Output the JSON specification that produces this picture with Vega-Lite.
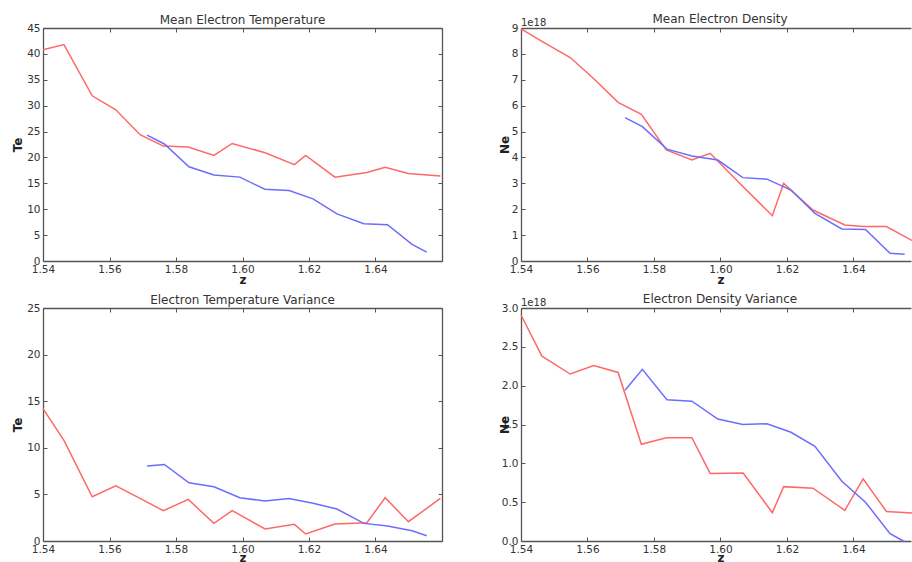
{
  "$schema": "https://vega.github.io/schema/vega-lite/v6.json",
  "background": "white",
  "padding": {"left": 11, "top": 12, "right": 0, "bottom": 0},
  "columns": 2,
  "spacing": {"row": 47, "column": 79},
  "bounds": "flush",
  "config": {
    "view": {"stroke": null},
    "title": {"font": "DejaVu Sans", "fontSize": 12, "fontWeight": "normal", "color": "#333333", "offset": -4, "baseline": "alphabetic", "frame": "group"},
    "axis": {
      "grid": false,
      "domainColor": "#555555",
      "domainWidth": 1.3,
      "tickColor": "#555555",
      "tickSize": -4,
      "tickWidth": 1,
      "labelFont": "DejaVu Sans",
      "labelFontSize": 10.5,
      "labelColor": "#333333",
      "labelPadding": 7,
      "labelOverlap": false,
      "labelBound": false,
      "labelFlush": false,
      "titleFont": "DejaVu Sans",
      "titleFontSize": 12,
      "titleFontWeight": "bold",
      "titleColor": "#222222"
    },
    "line": {"strokeWidth": 1.5, "clip": true}
  },
  "datasets": {
    "mte": [
      {"z": 1.5400, "v": 40.8, "series": "s1"},
      {"z": 1.5463, "v": 41.8, "series": "s1"},
      {"z": 1.5548, "v": 31.9, "series": "s1"},
      {"z": 1.5619, "v": 29.2, "series": "s1"},
      {"z": 1.5692, "v": 24.4, "series": "s1"},
      {"z": 1.5762, "v": 22.2, "series": "s1"},
      {"z": 1.5837, "v": 22.0, "series": "s1"},
      {"z": 1.5914, "v": 20.4, "series": "s1"},
      {"z": 1.5969, "v": 22.7, "series": "s1"},
      {"z": 1.6068, "v": 20.9, "series": "s1"},
      {"z": 1.6156, "v": 18.6, "series": "s1"},
      {"z": 1.6190, "v": 20.4, "series": "s1"},
      {"z": 1.6278, "v": 16.2, "series": "s1"},
      {"z": 1.6374, "v": 17.1, "series": "s1"},
      {"z": 1.6429, "v": 18.1, "series": "s1"},
      {"z": 1.6499, "v": 16.9, "series": "s1"},
      {"z": 1.6595, "v": 16.4, "series": "s1"},
      {"z": 1.5713, "v": 24.3, "series": "s2"},
      {"z": 1.5765, "v": 22.6, "series": "s2"},
      {"z": 1.5839, "v": 18.2, "series": "s2"},
      {"z": 1.5914, "v": 16.6, "series": "s2"},
      {"z": 1.5992, "v": 16.2, "series": "s2"},
      {"z": 1.6067, "v": 13.85, "series": "s2"},
      {"z": 1.6140, "v": 13.6, "series": "s2"},
      {"z": 1.6212, "v": 12.0, "series": "s2"},
      {"z": 1.6284, "v": 9.1, "series": "s2"},
      {"z": 1.6365, "v": 7.2, "series": "s2"},
      {"z": 1.6436, "v": 7.0, "series": "s2"},
      {"z": 1.6510, "v": 3.2, "series": "s2"},
      {"z": 1.6554, "v": 1.7, "series": "s2"}
    ],
    "mne": [
      {"z": 1.5400, "v": 8.97e18, "series": "s1"},
      {"z": 1.5463, "v": 8.48e18, "series": "s1"},
      {"z": 1.5548, "v": 7.86e18, "series": "s1"},
      {"z": 1.5619, "v": 7.04e18, "series": "s1"},
      {"z": 1.5692, "v": 6.13e18, "series": "s1"},
      {"z": 1.5762, "v": 5.67e18, "series": "s1"},
      {"z": 1.5837, "v": 4.29e18, "series": "s1"},
      {"z": 1.5914, "v": 3.90e18, "series": "s1"},
      {"z": 1.5969, "v": 4.16e18, "series": "s1"},
      {"z": 1.6068, "v": 2.87e18, "series": "s1"},
      {"z": 1.6156, "v": 1.75e18, "series": "s1"},
      {"z": 1.6190, "v": 3.00e18, "series": "s1"},
      {"z": 1.6278, "v": 1.97e18, "series": "s1"},
      {"z": 1.6374, "v": 1.39e18, "series": "s1"},
      {"z": 1.6429, "v": 1.33e18, "series": "s1"},
      {"z": 1.6499, "v": 1.33e18, "series": "s1"},
      {"z": 1.6595, "v": 0.66e18, "series": "s1"},
      {"z": 1.5713, "v": 5.54e18, "series": "s2"},
      {"z": 1.5765, "v": 5.19e18, "series": "s2"},
      {"z": 1.5839, "v": 4.32e18, "series": "s2"},
      {"z": 1.5914, "v": 4.06e18, "series": "s2"},
      {"z": 1.5992, "v": 3.90e18, "series": "s2"},
      {"z": 1.6067, "v": 3.22e18, "series": "s2"},
      {"z": 1.6140, "v": 3.16e18, "series": "s2"},
      {"z": 1.6212, "v": 2.74e18, "series": "s2"},
      {"z": 1.6284, "v": 1.84e18, "series": "s2"},
      {"z": 1.6365, "v": 1.24e18, "series": "s2"},
      {"z": 1.6436, "v": 1.22e18, "series": "s2"},
      {"z": 1.6510, "v": 0.30e18, "series": "s2"},
      {"z": 1.6554, "v": 0.26e18, "series": "s2"}
    ],
    "vte": [
      {"z": 1.5400, "v": 14.2, "series": "s1"},
      {"z": 1.5463, "v": 10.8, "series": "s1"},
      {"z": 1.5548, "v": 4.75, "series": "s1"},
      {"z": 1.5619, "v": 5.93, "series": "s1"},
      {"z": 1.5692, "v": 4.57, "series": "s1"},
      {"z": 1.5762, "v": 3.25, "series": "s1"},
      {"z": 1.5837, "v": 4.46, "series": "s1"},
      {"z": 1.5914, "v": 1.89, "series": "s1"},
      {"z": 1.5969, "v": 3.25, "series": "s1"},
      {"z": 1.6068, "v": 1.29, "series": "s1"},
      {"z": 1.6156, "v": 1.79, "series": "s1"},
      {"z": 1.6190, "v": 0.75, "series": "s1"},
      {"z": 1.6278, "v": 1.82, "series": "s1"},
      {"z": 1.6374, "v": 1.96, "series": "s1"},
      {"z": 1.6429, "v": 4.64, "series": "s1"},
      {"z": 1.6499, "v": 2.07, "series": "s1"},
      {"z": 1.6595, "v": 4.57, "series": "s1"},
      {"z": 1.5713, "v": 8.04, "series": "s2"},
      {"z": 1.5765, "v": 8.21, "series": "s2"},
      {"z": 1.5839, "v": 6.25, "series": "s2"},
      {"z": 1.5914, "v": 5.82, "series": "s2"},
      {"z": 1.5992, "v": 4.64, "series": "s2"},
      {"z": 1.6067, "v": 4.29, "series": "s2"},
      {"z": 1.6140, "v": 4.57, "series": "s2"},
      {"z": 1.6212, "v": 4.04, "series": "s2"},
      {"z": 1.6284, "v": 3.43, "series": "s2"},
      {"z": 1.6365, "v": 1.89, "series": "s2"},
      {"z": 1.6436, "v": 1.61, "series": "s2"},
      {"z": 1.6510, "v": 1.10, "series": "s2"},
      {"z": 1.6554, "v": 0.57, "series": "s2"}
    ],
    "vne": [
      {"z": 1.5400, "v": 2.91e18, "series": "s1"},
      {"z": 1.5463, "v": 2.38e18, "series": "s1"},
      {"z": 1.5548, "v": 2.15e18, "series": "s1"},
      {"z": 1.5619, "v": 2.26e18, "series": "s1"},
      {"z": 1.5692, "v": 2.17e18, "series": "s1"},
      {"z": 1.5762, "v": 1.245e18, "series": "s1"},
      {"z": 1.5837, "v": 1.33e18, "series": "s1"},
      {"z": 1.5914, "v": 1.33e18, "series": "s1"},
      {"z": 1.5969, "v": 0.87e18, "series": "s1"},
      {"z": 1.6068, "v": 0.875e18, "series": "s1"},
      {"z": 1.6156, "v": 0.365e18, "series": "s1"},
      {"z": 1.6190, "v": 0.70e18, "series": "s1"},
      {"z": 1.6278, "v": 0.68e18, "series": "s1"},
      {"z": 1.6374, "v": 0.395e18, "series": "s1"},
      {"z": 1.6429, "v": 0.80e18, "series": "s1"},
      {"z": 1.6499, "v": 0.38e18, "series": "s1"},
      {"z": 1.6595, "v": 0.355e18, "series": "s1"},
      {"z": 1.5713, "v": 1.94e18, "series": "s2"},
      {"z": 1.5765, "v": 2.21e18, "series": "s2"},
      {"z": 1.5839, "v": 1.82e18, "series": "s2"},
      {"z": 1.5914, "v": 1.80e18, "series": "s2"},
      {"z": 1.5992, "v": 1.57e18, "series": "s2"},
      {"z": 1.6067, "v": 1.50e18, "series": "s2"},
      {"z": 1.6140, "v": 1.51e18, "series": "s2"},
      {"z": 1.6212, "v": 1.40e18, "series": "s2"},
      {"z": 1.6284, "v": 1.22e18, "series": "s2"},
      {"z": 1.6365, "v": 0.77e18, "series": "s2"},
      {"z": 1.6436, "v": 0.50e18, "series": "s2"},
      {"z": 1.6510, "v": 0.094e18, "series": "s2"},
      {"z": 1.6554, "v": -0.01e18, "series": "s2"}
    ]
  },
  "concat": [
    {
      "width": 399,
      "height": 233,
      "title": {"text": "Mean Electron Temperature"},
      "data": {"name": "mte"},
      "layer": [
        {
          "mark": "line",
          "encoding": {
            "x": {"field": "z", "type": "quantitative", "scale": {"domain": [1.54, 1.66], "nice": false, "zero": false},
                  "axis": {"orient": "bottom", "values": [1.54, 1.56, 1.58, 1.6, 1.62, 1.64], "format": ".2f", "title": "z", "titleY": 22, "titleBaseline": "alphabetic"}},
            "y": {"field": "v", "type": "quantitative", "scale": {"domain": [0, 45], "nice": false},
                  "axis": {"orient": "left", "values": [0, 5, 10, 15, 20, 25, 30, 35, 40, 45], "format": "d", "title": "Te", "titleX": -22, "titleBaseline": "alphabetic"}},
            "color": {"field": "series", "type": "nominal", "scale": {"domain": ["s1", "s2"], "range": ["#ff6868", "#6c6cff"]}, "legend": null}
          }
        },
        {
          "mark": {"type": "line", "opacity": 0},
          "encoding": {
            "x": {"field": "z", "type": "quantitative", "axis": {"orient": "top", "values": [1.54, 1.56, 1.58, 1.6, 1.62, 1.64], "labels": false, "title": null}},
            "y": {"field": "v", "type": "quantitative", "axis": {"orient": "right", "values": [0, 5, 10, 15, 20, 25, 30, 35, 40, 45], "labels": false, "title": null}}
          }
        }
      ],
      "resolve": {"axis": {"x": "independent", "y": "independent"}}
    },
    {
      "width": 390,
      "height": 233,
      "title": {"text": "Mean Electron Density", "dx": 4, "offset": -8},
      "data": {"name": "mne"},
      "layer": [
        {
          "mark": "line",
          "encoding": {
            "x": {"field": "z", "type": "quantitative", "scale": {"domain": [1.54, 1.6573], "nice": false, "zero": false},
                  "axis": {"orient": "bottom", "values": [1.54, 1.56, 1.58, 1.6, 1.62, 1.64], "format": ".2f", "title": "z", "titleY": 22, "titleBaseline": "alphabetic", "titleX": 199.5}},
            "y": {"field": "v", "type": "quantitative", "scale": {"domain": [0, 9e18], "nice": false},
                  "axis": {"orient": "left", "values": [0, 1e18, 2e18, 3e18, 4e18, 5e18, 6e18, 7e18, 8e18, 9e18], "labelExpr": "format(datum.value / 1e18, 'd')", "title": "Ne", "titleX": -13, "titleBaseline": "alphabetic"}},
            "color": {"field": "series", "type": "nominal", "scale": {"domain": ["s1", "s2"], "range": ["#ff6868", "#6c6cff"]}, "legend": null}
          }
        },
        {
          "mark": {"type": "line", "opacity": 0},
          "encoding": {
            "x": {"field": "z", "type": "quantitative", "axis": {"orient": "top", "values": [1.54, 1.56, 1.58, 1.6, 1.62, 1.64], "labels": false, "title": null}},
            "y": {"field": "v", "type": "quantitative", "axis": null}
          }
        },
        {
          "data": {"values": [{"label": "1e18"}]},
          "mark": {"type": "text", "align": "left", "baseline": "alphabetic", "dx": 0, "dy": -2.5, "font": "DejaVu Sans", "fontSize": 10, "color": "#333333"},
          "encoding": {
            "text": {"field": "label"},
            "x": {"datum": 1.54, "type": "quantitative", "axis": null},
            "y": {"datum": 9e18, "type": "quantitative", "axis": null}
          }
        }
      ],
      "resolve": {"axis": {"x": "independent", "y": "independent"}}
    },
    {
      "width": 399,
      "height": 233,
      "title": {"text": "Electron Temperature Variance"},
      "data": {"name": "vte"},
      "layer": [
        {
          "mark": "line",
          "encoding": {
            "x": {"field": "z", "type": "quantitative", "scale": {"domain": [1.54, 1.66], "nice": false, "zero": false},
                  "axis": {"orient": "bottom", "values": [1.54, 1.56, 1.58, 1.6, 1.62, 1.64], "format": ".2f", "title": "z", "titleY": 20, "titleBaseline": "alphabetic"}},
            "y": {"field": "v", "type": "quantitative", "scale": {"domain": [0, 25], "nice": false},
                  "axis": {"orient": "left", "values": [0, 5, 10, 15, 20, 25], "format": "d", "title": "Te", "titleX": -22, "titleBaseline": "alphabetic"}},
            "color": {"field": "series", "type": "nominal", "scale": {"domain": ["s1", "s2"], "range": ["#ff6868", "#6c6cff"]}, "legend": null}
          }
        },
        {
          "mark": {"type": "line", "opacity": 0},
          "encoding": {
            "x": {"field": "z", "type": "quantitative", "axis": {"orient": "top", "values": [1.54, 1.56, 1.58, 1.6, 1.62, 1.64], "labels": false, "title": null}},
            "y": {"field": "v", "type": "quantitative", "axis": {"orient": "right", "values": [0, 5, 10, 15, 20, 25], "labels": false, "title": null}}
          }
        }
      ],
      "resolve": {"axis": {"x": "independent", "y": "independent"}}
    },
    {
      "width": 390,
      "height": 233,
      "title": {"text": "Electron Density Variance", "dx": 4, "offset": -8},
      "data": {"name": "vne"},
      "layer": [
        {
          "mark": "line",
          "encoding": {
            "x": {"field": "z", "type": "quantitative", "scale": {"domain": [1.54, 1.6573], "nice": false, "zero": false},
                  "axis": {"orient": "bottom", "values": [1.54, 1.56, 1.58, 1.6, 1.62, 1.64], "format": ".2f", "title": "z", "titleY": 20, "titleBaseline": "alphabetic", "titleX": 199.5}},
            "y": {"field": "v", "type": "quantitative", "scale": {"domain": [0, 3e18], "nice": false},
                  "axis": {"orient": "left", "values": [0, 0.5e18, 1e18, 1.5e18, 2e18, 2.5e18, 3e18], "labelExpr": "format(datum.value / 1e18, '.1f')", "title": "Ne", "titleX": -13, "titleBaseline": "alphabetic"}},
            "color": {"field": "series", "type": "nominal", "scale": {"domain": ["s1", "s2"], "range": ["#ff6868", "#6c6cff"]}, "legend": null}
          }
        },
        {
          "mark": {"type": "line", "opacity": 0},
          "encoding": {
            "x": {"field": "z", "type": "quantitative", "axis": {"orient": "top", "values": [1.54, 1.56, 1.58, 1.6, 1.62, 1.64], "labels": false, "title": null}},
            "y": {"field": "v", "type": "quantitative", "axis": null}
          }
        },
        {
          "data": {"values": [{"label": "1e18"}]},
          "mark": {"type": "text", "align": "left", "baseline": "alphabetic", "dx": 0, "dy": -2.5, "font": "DejaVu Sans", "fontSize": 10, "color": "#333333"},
          "encoding": {
            "text": {"field": "label"},
            "x": {"datum": 1.54, "type": "quantitative", "axis": null},
            "y": {"datum": 3e18, "type": "quantitative", "axis": null}
          }
        }
      ],
      "resolve": {"axis": {"x": "independent", "y": "independent"}}
    }
  ]
}
